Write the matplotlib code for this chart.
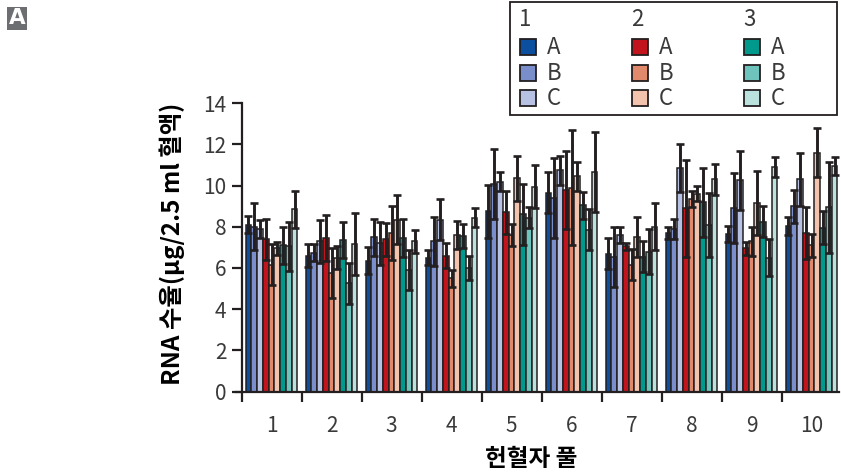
import matplotlib
matplotlib.use('Agg')
import matplotlib.pyplot as plt
import numpy as np
from matplotlib.patches import Rectangle

plt.rcParams['font.family'] = ['Noto Sans CJK KR', 'DejaVu Sans']

# data (RNA yield per 2.5 ml blood, mean +/- SD)
pools = ['1', '2', '3', '4', '5', '6', '7', '8', '9', '10']
series = ['1A', '1B', '1C', '2A', '2B', '2C', '3A', '3B', '3C']
colors = ['#0b4f9e', '#7a8ecb', '#b7c1e4',
          '#c1141d', '#e0896d', '#f3c3ae',
          '#00998b', '#6fc3bd', '#bae3de']

means = {
    '1A': [8.1, 6.6, 6.35, 6.5, 8.75, 9.65, 6.7, 7.7, 7.65, 8.05],
    '1B': [8.0, 6.75, 7.5, 7.3, 10.1, 9.4, 6.55, 7.9, 8.9, 9.0],
    '1C': [7.9, 7.3, 7.2, 8.35, 10.2, 10.75, 7.6, 10.85, 10.25, 10.3],
    '2A': [7.4, 7.45, 7.4, 6.6, 8.7, 9.8, 7.05, 8.9, 6.95, 7.7],
    '2B': [6.15, 5.75, 7.7, 5.5, 7.6, 9.9, 6.15, 9.35, 7.3, 7.1],
    '2C': [6.95, 6.5, 8.35, 7.6, 10.35, 10.45, 7.5, 9.6, 9.15, 11.6],
    '3A': [7.1, 7.35, 7.45, 7.55, 8.6, 9.05, 6.55, 9.2, 8.25, 7.95],
    '3B': [7.05, 5.25, 5.9, 6.0, 8.45, 7.85, 6.8, 8.1, 6.5, 8.95],
    '3C': [8.85, 7.15, 7.3, 8.45, 9.95, 10.65, 8.0, 10.3, 10.9, 10.95],
}
errs = {
    '1A': [0.42, 0.55, 0.65, 0.35, 1.3, 1.0, 0.75, 0.28, 0.37, 0.45],
    '1B': [1.15, 0.4, 0.9, 1.2, 1.7, 1.95, 1.45, 0.5, 1.7, 0.8],
    '1C': [0.45, 1.05, 1.05, 1.0, 0.45, 0.7, 0.4, 1.15, 1.45, 1.3],
    '2A': [1.0, 1.1, 0.8, 0.6, 1.05, 1.9, 0.18, 2.35, 0.3, 1.25],
    '2B': [1.0, 1.2, 1.3, 0.4, 0.55, 2.8, 0.75, 0.4, 0.7, 0.56],
    '2C': [0.3, 0.55, 1.2, 0.7, 1.1, 0.7, 0.97, 0.37, 1.55, 1.2],
    '3A': [0.9, 0.87, 0.93, 0.6, 1.5, 0.65, 0.75, 1.68, 0.76, 0.8],
    '3B': [1.2, 1.0, 0.97, 0.6, 0.52, 1.0, 1.08, 1.55, 0.9, 2.2],
    '3C': [0.9, 1.5, 0.55, 0.47, 1.05, 1.95, 1.15, 0.77, 0.5, 0.42],
}

dark = '#231f20'
txt = '#3a3a3a'

fig = plt.figure(figsize=(8.41, 4.74), dpi=100)
ax = fig.add_axes([235.5 / 841, 82.5 / 474, 603 / 841, 288.2 / 474])

x = np.arange(len(pools))
w = 0.096
for i, s in enumerate(series):
    pos = x + (i - 4) * w
    ax.bar(pos, means[s], width=w, color=colors[i], edgecolor=dark,
           linewidth=1.1, zorder=2)
    ax.errorbar(pos, means[s], yerr=errs[s], fmt='none', ecolor=dark,
                elinewidth=2.1, capsize=3, capthick=1.9, zorder=3)

ax.set_ylim(0, 14)
ax.set_xlim(-0.6, 9.45)
ax.spines['left'].set_position(('data', -0.5))
for side in ['top', 'right']:
    ax.spines[side].set_visible(False)
for side in ['left', 'bottom']:
    ax.spines[side].set_linewidth(1.6)
    ax.spines[side].set_color(dark)

ax.set_yticks(np.arange(0, 15, 2))
ax.set_xticks(np.arange(-0.5, 9.0, 1.0))
ax.set_xticklabels([])
ax.set_xticks(x, pools, minor=True)
ax.tick_params(axis='y', length=7, width=1.6, color=dark, labelsize=15,
               labelcolor=txt, pad=4)
ax.tick_params(axis='x', which='major', length=7, width=1.6, color=dark)
ax.tick_params(axis='x', which='minor', length=0, labelsize=15,
               labelcolor=txt, pad=17)

fig.text(172 / 841, 1 - 244 / 474, 'RNA 수율(µg/2.5 ml 혈액)', rotation=90,
         ha='center', va='center', fontsize=17.5, fontweight='bold', color='black')
fig.text(531 / 841, 1 - 459 / 474, '헌혈자 풀', ha='center', va='center',
         fontsize=17, fontweight='bold', color='black')

# panel tag
fig.patches.append(Rectangle((7 / 841, 1 - 30 / 474), 20 / 841, 23 / 474,
                             transform=fig.transFigure, facecolor='#6d6e71',
                             edgecolor='none'))
fig.text(17 / 841, 1 - 18.5 / 474, 'A', ha='center', va='center', color='white',
         fontsize=15.5, fontweight='bold', family='DejaVu Sans')

# legend box drawn in pixel-like coordinates
lg = fig.add_axes([509 / 841, 1 - 116 / 474, 329 / 841, 115 / 474])
lg.set_xlim(0, 329)
lg.set_ylim(115, 0)
lg.axis('off')
lg.add_patch(Rectangle((0.8, 0.8), 327.4, 113.4, facecolor='white',
                       edgecolor=dark, linewidth=1.3))
for j, grp in enumerate(['1', '2', '3']):
    x0 = 11 + j * 112
    lg.text(x0 - 1, 18, grp, ha='left', va='center', fontsize=16, color=txt)
    for k, sub in enumerate(['A', 'B', 'C']):
        y0 = 38 + k * 25.5
        lg.add_patch(Rectangle((x0, y0), 16, 16, facecolor=colors[j * 3 + k],
                               edgecolor=dark, linewidth=1.3))
        lg.text(x0 + 27, y0 + 8.5, sub, ha='left', va='center', fontsize=16,
                color=txt)

fig.savefig('out.png', dpi=100)
